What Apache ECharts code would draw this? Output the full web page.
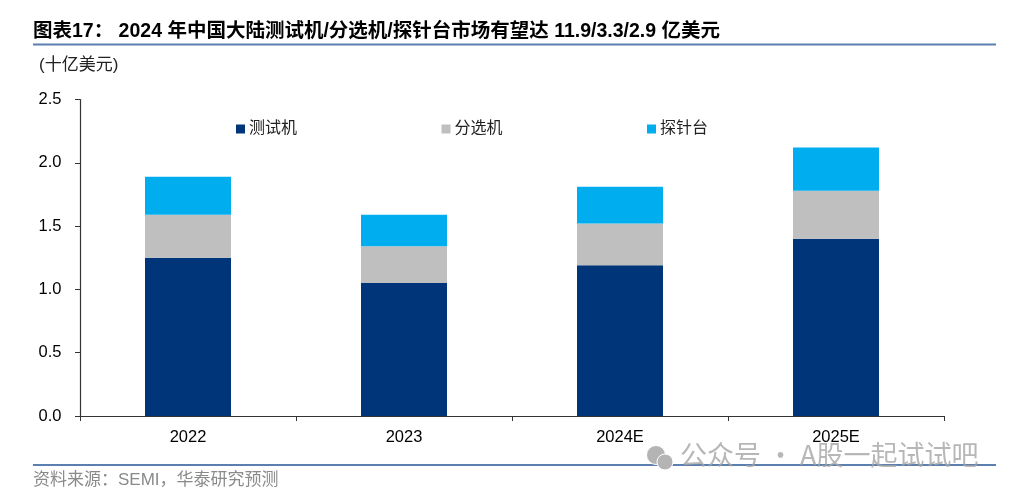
<!DOCTYPE html>
<html><head><meta charset="utf-8">
<style>html,body{margin:0;padding:0;background:#fff}#c{width:1010px;height:495px}</style>
<script src="https://cdn.jsdelivr.net/npm/echarts@6/dist/echarts.min.js"></script></head>
<body><div id="c"></div>
<script>
const categories = ['2022','2023','2024E','2025E'];
const testers = [1.25,1.05,1.19,1.40];
const handlers = [0.34,0.29,0.33,0.38];
const probers = [0.30,0.25,0.29,0.34];
const titleText = '图表17： 2024 年中国大陆测试机/分选机/探针台市场有望达 11.9/3.3/2.9 亿美元';
const unitText = '(十亿美元)';
const sourceText = '资料来源：SEMI，华泰研究预测';
const watermarkText = '公众号 · A股一起试试吧';
const F = '"Liberation Sans","Noto Sans CJK SC",sans-serif';
const chart = echarts.init(document.getElementById('c'), null, {renderer:'canvas'});
const mk = (name,data,color)=>({name,type:'bar',stack:'t',data,barWidth:86,itemStyle:{color}});
chart.setOption({
  animation:false,
  backgroundColor:'#fff',
  grid:{left:80,right:66,top:99.5,bottom:79},
  legend:{left:231,top:116,itemWidth:9,itemHeight:9,itemGap:144.5,icon:'rect',
    textStyle:{fontFamily:F,fontSize:16,color:'#222',padding:[0,0,0,-1]},
    data:['测试机','分选机','探针台']},
  xAxis:{type:'category',data:categories,
    axisLine:{lineStyle:{color:'#333',width:1.2}},
    axisTick:{show:true,length:5,alignWithLabel:false,lineStyle:{color:'#333'}},
    axisLabel:{fontFamily:F,fontSize:16.5,color:'#000',margin:13}},
  yAxis:{type:'value',min:0,max:2.5,interval:0.5,splitLine:{show:false},
    axisLine:{show:true,lineStyle:{color:'#333',width:1.2}},
    axisTick:{show:true,length:5,lineStyle:{color:'#333'}},
    axisLabel:{fontFamily:F,fontSize:16.5,color:'#000',margin:18.5,formatter:v=>v.toFixed(1)}},
  series:[mk('测试机',testers,'#003679'),mk('分选机',handlers,'#bfbfbf'),mk('探针台',probers,'#00aeef')],
  graphic:[
    {type:'text',left:33,top:22,style:{text:titleText,fontFamily:F,fontSize:19.5,fontWeight:'bold',fill:'#000'}},
    {type:'rect',shape:{x:33,y:43.5,width:963,height:2},style:{fill:'#5b7fae'}},
    {type:'text',left:39,top:57,style:{text:unitText,fontFamily:F,fontSize:17,fill:'#222'}},
    {type:'rect',shape:{x:33,y:464,width:963,height:2},style:{fill:'#5b7fae'}},
    {type:'text',left:33,top:472,style:{text:sourceText,fontFamily:F,fontSize:17,fill:'#8a8a8a'}},
    {type:'circle',shape:{cx:656,cy:455,r:9.5},style:{fill:'#b4b4b4',stroke:'#fff',lineWidth:1},z:20},
    {type:'circle',shape:{cx:665,cy:462,r:8},style:{fill:'#b4b4b4',stroke:'#fff',lineWidth:1},z:21},
    {type:'text',left:680,top:441,z:20,style:{text:watermarkText,fontFamily:'"Noto Sans CJK SC",sans-serif',fontSize:27,fill:'rgba(165,165,165,0.8)'}}
  ]
});
</script></body></html>
